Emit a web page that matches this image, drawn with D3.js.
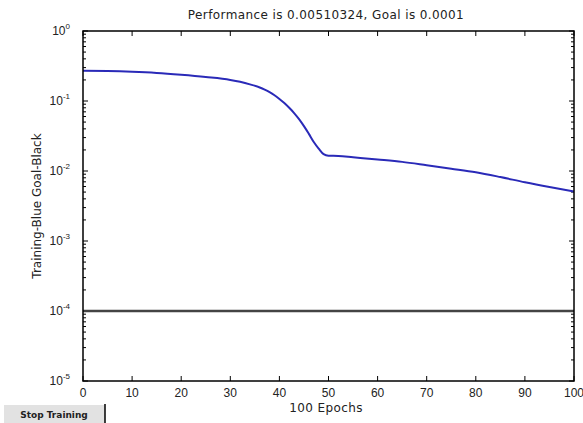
<!DOCTYPE html>
<html>
<head>
<meta charset="utf-8">
<script src="https://cdn.jsdelivr.net/npm/d3@7"></script>
<style>
  body { margin: 0; background: #fff; }
  svg { display: block; font-family: "Liberation Sans", Arial, sans-serif; }
</style>
</head>
<body>
<div id="chart"></div>
<script>
const epochs = [0, 5, 10, 15, 20, 25, 30, 32, 34, 36, 37, 38, 39, 40, 41, 42, 43, 44, 45, 46, 47, 48, 49, 50, 52, 55, 60, 65, 70, 75, 80, 85, 90, 95, 100]
const performance = [0.270, 0.268, 0.262, 0.252, 0.237, 0.220, 0.200, 0.188, 0.173, 0.156, 0.1455, 0.134, 0.121, 0.107, 0.0935, 0.080, 0.0673, 0.055, 0.0437, 0.0339, 0.026, 0.0209, 0.0174, 0.0165, 0.0164, 0.0157, 0.0146, 0.0135, 0.0121, 0.0108, 0.0096, 0.0082, 0.0069, 0.0059, 0.00510324]
const goal = 0.0001
const xTicks = [0, 10, 20, 30, 40, 50, 60, 70, 80, 90, 100]
const yExponents = [0, -1, -2, -3, -4, -5]

const width = 583
const height = 423
const margin = { top: 31, right: 9, bottom: 42, left: 83 }
const w = width - margin.left - margin.right
const h = height - margin.top - margin.bottom

const svg = d3.select('#chart').append('svg')
  .attr('width', width)
  .attr('height', height)

const g = svg.append('g').attr('transform', `translate(${margin.left},${margin.top})`)

const x = d3.scaleLinear().domain([0, 100]).range([0, w])
const y = d3.scaleLog().domain([1e-5, 1]).range([h, 0])

// minor log ticks left and right
const minor = []
for (let e = -5; e < 0; e++) {
  for (let m = 2; m <= 9; m++) minor.push(m * Math.pow(10, e))
}
const tickG = g.append('g').attr('stroke', '#000').attr('stroke-width', 1)
minor.forEach((v) => {
  tickG.append('line').attr('x1', 0).attr('x2', 3).attr('y1', y(v)).attr('y2', y(v))
  tickG.append('line').attr('x1', w).attr('x2', w - 3).attr('y1', y(v)).attr('y2', y(v))
})
yExponents.forEach((e) => {
  const v = Math.pow(10, e)
  tickG.append('line').attr('x1', 0).attr('x2', 5).attr('y1', y(v)).attr('y2', y(v))
  tickG.append('line').attr('x1', w).attr('x2', w - 5).attr('y1', y(v)).attr('y2', y(v))
})
xTicks.forEach((t) => {
  tickG.append('line').attr('x1', x(t)).attr('x2', x(t)).attr('y1', h).attr('y2', h - 5)
  tickG.append('line').attr('x1', x(t)).attr('x2', x(t)).attr('y1', 0).attr('y2', 5)
})

// goal line
g.append('line')
  .attr('x1', 0).attr('x2', w)
  .attr('y1', y(goal)).attr('y2', y(goal))
  .attr('stroke', '#444').attr('stroke-width', 2.5)

// training curve
const line = d3.line()
  .x((d, i) => x(epochs[i]))
  .y((d) => y(d))
  .curve(d3.curveMonotoneX)
g.append('path')
  .datum(performance)
  .attr('fill', 'none')
  .attr('stroke', '#2a2ab8')
  .attr('stroke-width', 2)
  .attr('d', line)

// box
g.append('rect')
  .attr('x', 0).attr('y', 0).attr('width', w).attr('height', h)
  .attr('fill', 'none').attr('stroke', '#000').attr('stroke-width', 1.5)

// y tick labels
yExponents.forEach((e) => {
  const t = g.append('text')
    .attr('x', -13).attr('y', y(Math.pow(10, e)) + 4)
    .attr('text-anchor', 'end')
    .attr('font-size', 12)
    .attr('fill', '#222')
  t.append('tspan').text('10')
  t.append('tspan').attr('dy', -6).attr('font-size', 8).text(e)
})

// x tick labels
g.selectAll('.xl').data(xTicks).enter().append('text')
  .attr('x', (d) => x(d))
  .attr('y', h + 16)
  .attr('text-anchor', 'middle')
  .attr('font-size', 12)
  .attr('fill', '#222')
  .text((d) => d)

// labels
svg.append('text')
  .attr('x', 326).attr('y', 19)
  .attr('text-anchor', 'middle').attr('font-size', 12)
  .attr('font-family', '"DejaVu Sans", sans-serif').attr('letter-spacing', 0.4)
  .attr('fill', '#222')
  .text('Performance is 0.00510324, Goal is 0.0001')

svg.append('text')
  .attr('x', 326).attr('y', 412)
  .attr('text-anchor', 'middle').attr('font-size', 12)
  .attr('font-family', '"DejaVu Sans", sans-serif').attr('letter-spacing', 0.4)
  .attr('fill', '#222')
  .text('100 Epochs')

svg.append('text')
  .attr('transform', `translate(41,${margin.top + h / 2}) rotate(-90)`)
  .attr('text-anchor', 'middle').attr('font-size', 12)
  .attr('font-family', '"DejaVu Sans", sans-serif')
  .attr('fill', '#222')
  .text('Training-Blue  Goal-Black')

// stop training button
const btn = svg.append('g').attr('transform', 'translate(4,404)')
btn.append('rect').attr('width', 101).attr('height', 19).attr('fill', '#e2e2e2')
btn.append('line').attr('x1', 0).attr('x2', 101).attr('y1', 0.5).attr('y2', 0.5).attr('stroke', '#fff')
btn.append('line').attr('x1', 101).attr('x2', 101).attr('y1', 0).attr('y2', 19).attr('stroke', '#000').attr('stroke-width', 1.5)
btn.append('text')
  .attr('x', 50).attr('y', 14)
  .attr('text-anchor', 'middle').attr('font-size', 9).attr('font-weight', 'bold')
  .attr('font-family', '"DejaVu Sans", sans-serif')
  .attr('fill', '#222')
  .text('Stop Training')
</script>
</body>
</html>
